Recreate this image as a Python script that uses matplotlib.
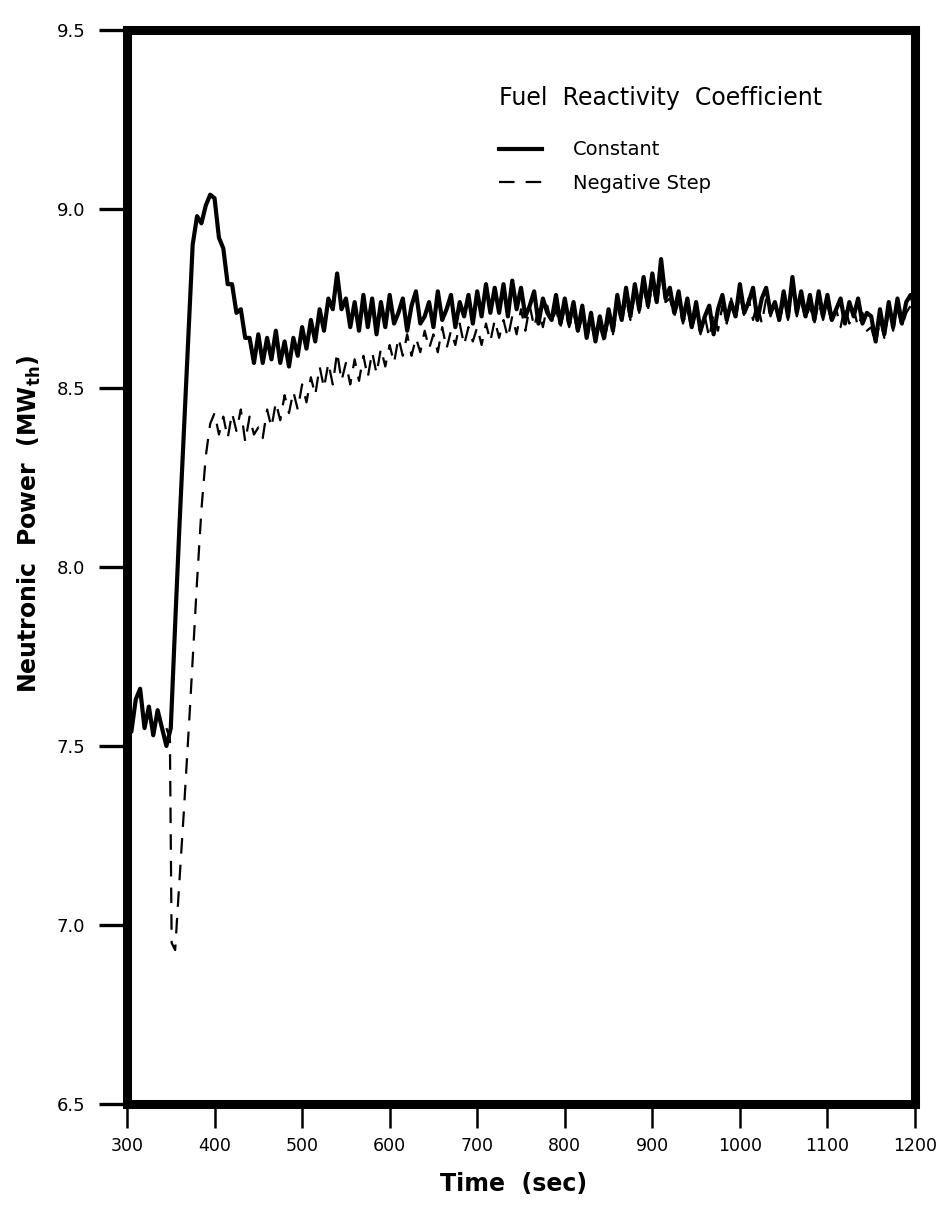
import numpy as np
import matplotlib
matplotlib.use("Agg")
import matplotlib.pyplot as plt

# time axis (sec)
time_const = np.arange(300, 1205, 5)

# neutronic power, constant fuel reactivity coefficient (MWth)
power_const = [
    7.62, 7.54, 7.63, 7.66, 7.55, 7.61, 7.53, 7.60, 7.55, 7.50,
    7.55, 7.84, 8.12, 8.38, 8.64, 8.90, 8.98, 8.96, 9.01, 9.04,
    9.03, 8.92, 8.89, 8.79, 8.79, 8.71, 8.72, 8.64, 8.64, 8.57,
    8.65, 8.57, 8.64, 8.58, 8.66, 8.57, 8.63, 8.56, 8.64, 8.59,
    8.67, 8.61, 8.69, 8.63, 8.72, 8.66, 8.75, 8.72, 8.82, 8.72,
    8.75, 8.67, 8.74, 8.66, 8.76, 8.67, 8.75, 8.65, 8.74, 8.67,
    8.76, 8.68, 8.71, 8.75, 8.66, 8.73, 8.77, 8.68, 8.70, 8.74,
    8.67, 8.77, 8.69, 8.72, 8.76, 8.67, 8.74, 8.70, 8.76, 8.68,
    8.77, 8.70, 8.79, 8.71, 8.78, 8.71, 8.79, 8.70, 8.80, 8.72,
    8.78, 8.70, 8.73, 8.77, 8.68, 8.75, 8.71, 8.69, 8.76, 8.68,
    8.75, 8.68, 8.74, 8.66, 8.73, 8.64, 8.71, 8.63, 8.70, 8.64,
    8.72, 8.66, 8.76, 8.69, 8.78, 8.70, 8.79, 8.72, 8.81, 8.73,
    8.82, 8.74, 8.86, 8.75, 8.78, 8.71, 8.77, 8.69, 8.75, 8.67,
    8.74, 8.66, 8.70, 8.73, 8.65, 8.72, 8.76, 8.69, 8.74, 8.70,
    8.79, 8.71, 8.74, 8.78, 8.69, 8.75, 8.78, 8.71, 8.74, 8.69,
    8.77, 8.70, 8.81, 8.71, 8.77, 8.70, 8.76, 8.69, 8.77, 8.70,
    8.76, 8.69, 8.72, 8.75, 8.68, 8.74, 8.70, 8.75, 8.68, 8.71,
    8.70, 8.63, 8.72, 8.65, 8.74, 8.67, 8.75, 8.68, 8.74, 8.76,
    8.73,
]

# negative step: transient read at irregular times, then every 5 s
time_step = np.concatenate([[345, 349, 351, 355, 358, 365, 372, 380, 385, 390, 395],
                            np.arange(400, 1205, 5)])
power_step = [
    7.55, 7.52, 6.95, 6.93, 7.05, 7.32, 7.61, 7.96, 8.16, 8.31, 8.40,
    8.43, 8.37, 8.42, 8.36, 8.43, 8.38, 8.44, 8.35, 8.42, 8.37,
    8.39, 8.36, 8.44, 8.39, 8.46, 8.41, 8.48, 8.43, 8.49, 8.44,
    8.51, 8.46, 8.53, 8.48, 8.56, 8.50, 8.57, 8.51, 8.60, 8.52,
    8.57, 8.51, 8.58, 8.52, 8.59, 8.53, 8.60, 8.54, 8.61, 8.56,
    8.62, 8.57, 8.64, 8.59, 8.65, 8.59, 8.64, 8.60, 8.66, 8.61,
    8.65, 8.60, 8.67, 8.61, 8.66, 8.62, 8.68, 8.62, 8.67, 8.63,
    8.67, 8.62, 8.68, 8.63, 8.69, 8.64, 8.69, 8.64, 8.70, 8.65,
    8.72, 8.66, 8.73, 8.67, 8.72, 8.67, 8.73, 8.68, 8.72, 8.67,
    8.72, 8.67, 8.71, 8.65, 8.70, 8.64, 8.68, 8.63, 8.67, 8.63,
    8.69, 8.65, 8.73, 8.68, 8.75, 8.69, 8.76, 8.71, 8.78, 8.72,
    8.79, 8.73, 8.82, 8.74, 8.75, 8.70, 8.74, 8.68, 8.72, 8.66,
    8.71, 8.65, 8.70, 8.64, 8.71, 8.66, 8.73, 8.68, 8.75, 8.69,
    8.76, 8.70, 8.75, 8.69, 8.74, 8.68, 8.75, 8.70, 8.74, 8.68,
    8.74, 8.69, 8.78, 8.70, 8.74, 8.69, 8.73, 8.68, 8.74, 8.69,
    8.73, 8.68, 8.72, 8.67, 8.73, 8.68, 8.72, 8.67, 8.71, 8.66,
    8.67, 8.62, 8.69, 8.64, 8.71, 8.66, 8.72, 8.67, 8.71, 8.73,
    8.71,
]

x_ticks = [300, 400, 500, 600, 700, 800, 900, 1000, 1100, 1200]
y_ticks = [6.5, 7.0, 7.5, 8.0, 8.5, 9.0, 9.5]

fig = plt.figure(figsize=(9.39, 12.16), dpi=100)
ax = fig.add_axes([127/939, 1 - 1104/1216, (915-127)/939, (1104-30)/1216])

ax.plot(time_const, power_const, color='black', lw=3.0, label='Constant')
ax.plot(time_step, power_step, color='black', lw=1.6, dashes=(7, 5),
        label='Negative Step')

ax.set_xlim(300, 1200)
ax.set_ylim(6.5, 9.5)
ax.set_xticks(x_ticks)
ax.set_xticklabels([str(v) for v in x_ticks])
ax.set_yticks(y_ticks)
ax.set_yticklabels(['%.1f' % v for v in y_ticks])

for sp in ax.spines.values():
    sp.set_linewidth(6.5)
ax.tick_params(axis='y', length=20, width=2.4, pad=10, labelsize=13)
ax.tick_params(axis='x', length=17, width=1.8, pad=7, labelsize=12.5)

ax.set_xlabel('Time  (sec)', fontsize=17, fontweight='bold')
ax.set_ylabel(r'Neutronic  Power  (MW$_{\mathbf{th}}$)', fontsize=17,
              fontweight='bold')
ax.xaxis.set_label_coords(0.49, -0.063)
ax.yaxis.set_label_coords(-0.107, 0.54)

leg = ax.legend(title='Fuel  Reactivity  Coefficient', loc='upper left',
                bbox_to_anchor=(0.472, 0.948), frameon=False, fontsize=14,
                title_fontsize=17, alignment='left', handlelength=2.2,
                handletextpad=1.6, labelspacing=0.75, borderpad=0,
                borderaxespad=0)
leg._legend_box.sep = 22

fig.savefig('out.png', dpi=100)
